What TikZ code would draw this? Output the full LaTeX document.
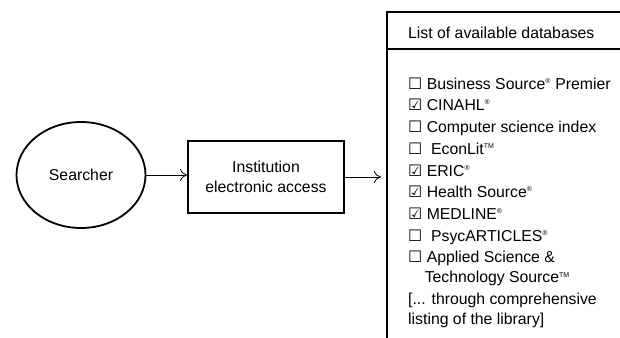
\documentclass[tikz,border=0pt]{standalone}
\usepackage{fontspec}
\setmainfont{Liberation Sans}
\newfontfamily\symfont{DejaVu Sans}
\usetikzlibrary{arrows.meta,shapes.geometric}
\newcommand{\regm}{\textsuperscript{\scriptsize\textregistered}}
\newcommand{\tmm}{\textsuperscript{\scriptsize TM}}
\newcommand{\boxun}{{\symfont ☐}}
\newcommand{\boxck}{{\symfont ☑}}
\begin{document}
\begin{tikzpicture}[x=1pt,y=1pt,
  every node/.style={font=\fontsize{15.8}{18}\selectfont, inner sep=0pt},
  item/.style={anchor=base west},
  conn/.style={-{To[length=7pt,width=12pt]}, line width=0.8pt},
  thick2/.style={line width=1.8pt}]
\useasboundingbox (0,0) rectangle (620,-337);
\node[draw, thick2, ellipse, minimum width=129pt, minimum height=106pt] (s) at (81,-175) {Searcher};
\node[draw, thick2, minimum width=156pt, minimum height=72pt, align=center, font=\fontsize{15.8}{20}\selectfont] (b) at (266,-177) {Institution\\electronic access};
\coordinate (lb) at (381,-177);
\draw[conn] (s.east) -- (b.west |- s.east);
\draw[conn] (b.east) -- (lb);
\draw[thick2] (387,-340) -- (387,-12) -- (625,-12);
\draw[thick2] (387,-49) -- (625,-49);
\node[item] (h) at (408,-38) {List of available databases};
\node[item] (i1) at (408,-89) {\boxun\ Business Source\regm\ Premier};
\node[item] (i2) at (408,-110) {\boxck\ CINAHL\regm};
\node[item] (i3) at (408,-132) {\boxun\ Computer science index};
\node[item] (i4) at (408,-154) {\boxun\ \ EconLit\tmm};
\node[item] (i5) at (408,-176) {\boxck\ ERIC\regm};
\node[item] (i6) at (408,-197) {\boxck\ Health Source\regm};
\node[item] (i7) at (408,-219) {\boxck\ MEDLINE\regm};
\node[item] (i8) at (408,-241) {\boxun\ \ PsycARTICLES\regm};
\node[item, align=left, anchor=north west, font=\fontsize{15.8}{20}\selectfont] (i9) at (408,-251) {\boxun\ Applied Science \&\\\hspace{1.05em}Technology Source\tmm};
\node[item, align=left, anchor=north west, font=\fontsize{15.8}{20}\selectfont] (i10) at (408,-293) {[... through comprehensive\\listing of the library]};
\end{tikzpicture}
\end{document}
